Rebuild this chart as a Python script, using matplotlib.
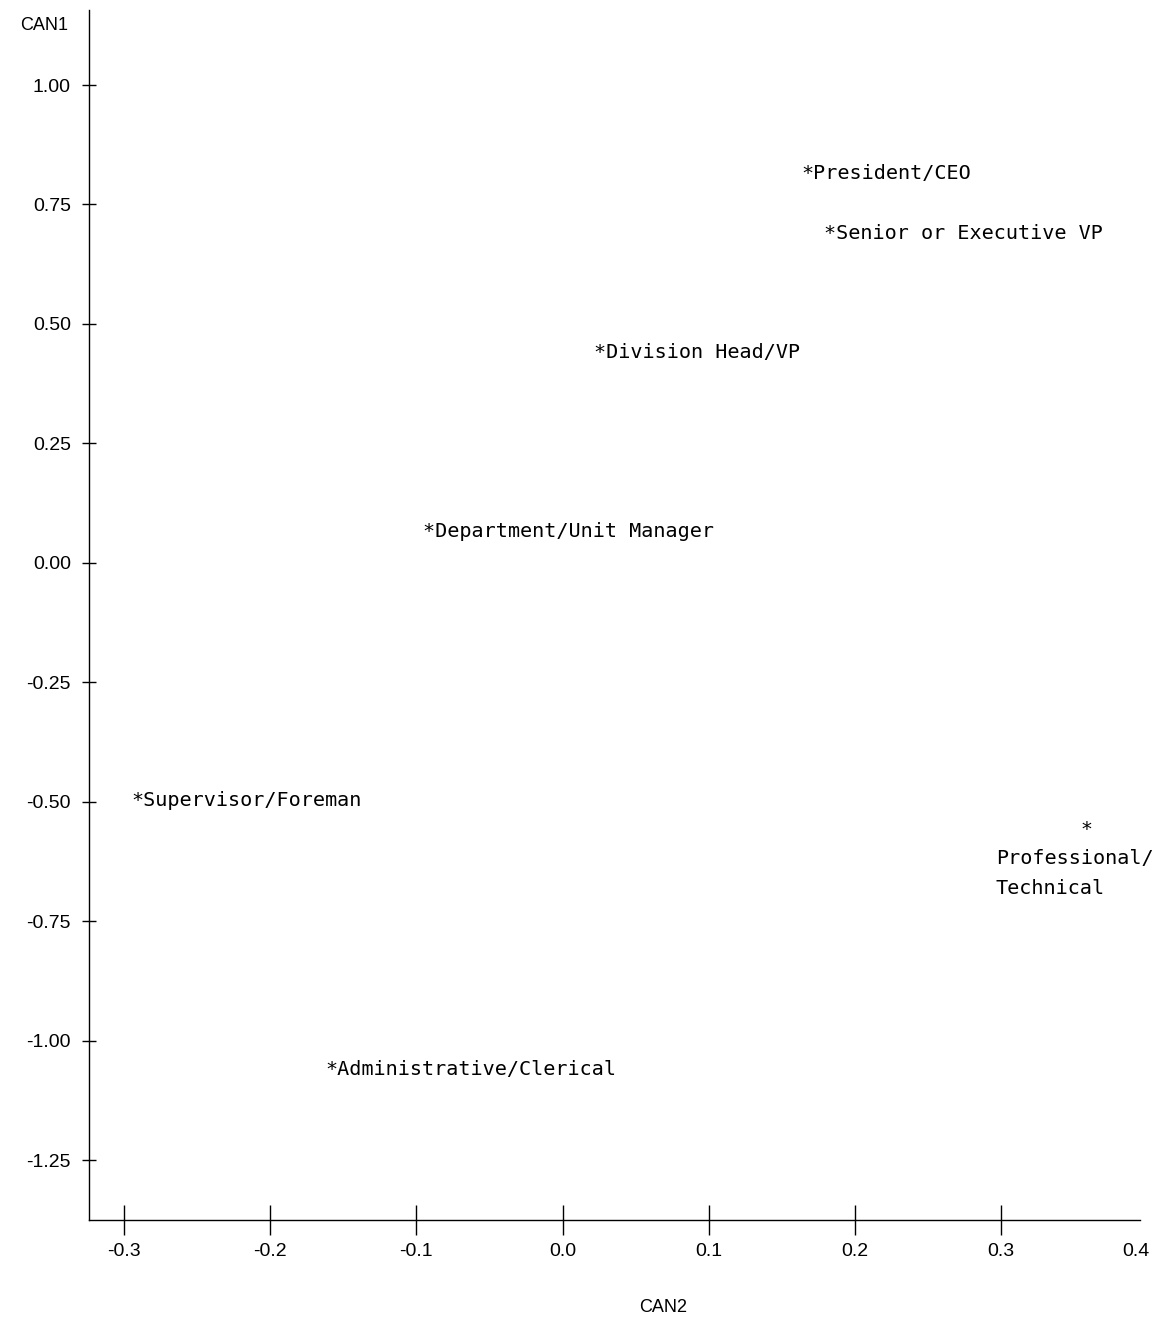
import matplotlib
matplotlib.use("Agg")
import matplotlib.pyplot as plt

# canonical scores per job level
labels = ['President/CEO', 'Senior or Executive VP', 'Division Head/VP',
          'Department/Unit Manager', 'Supervisor/Foreman',
          'Administrative/Clerical']
can2 = [0.1676, 0.183, 0.0253, -0.0917, -0.291, -0.158]
can1 = [0.815, 0.690, 0.441, 0.0648, -0.4975, -1.060]

# this one is split over two lines under the star
split_label = 'Professional/\nTechnical'
split_can2 = 0.358
split_can1 = -0.554

yticks = [1.00, 0.75, 0.50, 0.25, 0.00, -0.25, -0.50, -0.75, -1.00, -1.25]
xticks = [-0.3, -0.2, -0.1, 0.0, 0.1, 0.2, 0.3]

fig = plt.figure(figsize=(11.61, 13.2), dpi=100)
ax = fig.add_axes([89 / 1161, 1 - 1220 / 1320, (1140 - 89) / 1161, (1220 - 10) / 1320])

mono = 'DejaVu Sans Mono'
sans = 'Liberation Sans'

for lab, x, y in zip(labels, can2, can1):
    ax.annotate('*' + lab, (x, y), xytext=(-6, 0), textcoords='offset pixels',
                ha='left', va='center', family=mono, fontsize=14.5)

ax.annotate('       *\n' + split_label, (split_can2, split_can1), xytext=(-90, 8),
            textcoords='offset pixels', ha='left', va='top', family=mono,
            fontsize=14.5, linespacing=1.7)

ax.set_xlim(-0.324, 0.395)
ax.set_ylim(-1.375, 1.157)
ax.set_xticks(xticks)
ax.set_xticklabels([f'{t:.1f}' for t in xticks])
ax.set_yticks(yticks)
ax.set_yticklabels([f'{t:.2f}' for t in yticks])

# the last x label sits at the end of the axis without a tick
ax.text(0.392, -0.0192, '0.4', transform=ax.get_xaxis_transform(), ha='center',
        va='top', family=sans, fontsize=14)

for s in ['top', 'right']:
    ax.spines[s].set_visible(False)
for s in ['left', 'bottom']:
    ax.spines[s].set_linewidth(1.0)

ax.tick_params(axis='y', direction='inout', length=10, width=1.0, pad=8, labelsize=14)
ax.tick_params(axis='x', direction='inout', length=21, width=1.0, pad=6, labelsize=14)
for t in ax.get_xticklabels() + ax.get_yticklabels():
    t.set_family(sans)

fig.text(44 / 1161, 1 - 25 / 1320, 'CAN1', ha='center', va='center', family=sans, fontsize=13)
fig.text(663 / 1161, 1 - 1308 / 1320, 'CAN2', ha='center', va='center', family=sans, fontsize=13)

fig.savefig('out.png', dpi=100)
